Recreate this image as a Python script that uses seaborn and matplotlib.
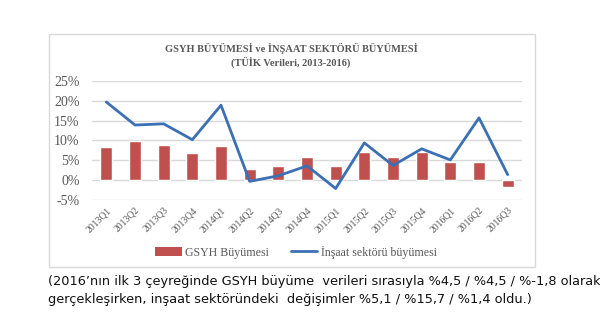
import matplotlib
matplotlib.use("Agg")
import matplotlib.pyplot as plt
import seaborn as sns
import pandas as pd
import numpy as np
from matplotlib.patches import Rectangle
from matplotlib.lines import Line2D
from matplotlib.patches import Patch
from matplotlib.ticker import FuncFormatter

quarters = ["2013Q1", "2013Q2", "2013Q3", "2013Q4", "2014Q1", "2014Q2", "2014Q3", "2014Q4",
            "2015Q1", "2015Q2", "2015Q3", "2015Q4", "2016Q1", "2016Q2", "2016Q3"]
gsyh = [8.4, 9.8, 8.9, 6.8, 8.6, 2.9, 3.6, 5.9, 3.5, 7.1, 5.8, 7.2, 4.5, 4.5, -1.8]
insaat = [19.7, 13.9, 14.2, 10.2, 18.9, -0.3, 1.1, 3.6, -2.1, 9.4, 3.7, 7.9, 5.1, 15.7, 1.4]
ytick_vals = [-5, 0, 5, 10, 15, 20, 25]
title_lines = ["GSYH BÜYÜMESİ ve İNŞAAT SEKTÖRÜ BÜYÜMESİ", "(TÜİK Verileri, 2013-2016)"]
legend_labels = ["GSYH Büyümesi", "İnşaat sektörü büyümesi"]
caption = ["(2016’nın ilk 3 çeyreğinde GSYH büyüme  verileri sırasıyla %4,5 / %4,5 / %-1,8 olarak",
           "gerçekleşirken, inşaat sektöründeki  değişimler %5,1 / %15,7 / %1,4 oldu.)"]

df = pd.DataFrame({"q": quarters, "gsyh": gsyh, "insaat": insaat, "pos": np.arange(len(quarters))})

sns.set_theme(style="white")
plt.rcParams["font.family"] = ["DejaVu Sans"]

W, H = 600, 329
fig = plt.figure(figsize=(6, 3.29), dpi=100)
fig.patch.set_facecolor("white")

bar_c = "#C0504D"
line_c = "#3B6FB6"
txt_c = "#595959"
serif = ["Liberation Serif", "DejaVu Serif"]

# chart box
fig.patches.append(Rectangle((49 / W, 1 - 267 / H), (535 - 49) / W, (267 - 34) / H,
                             transform=fig.transFigure, fill=False, edgecolor="#D9D9D9", lw=1))

ax = fig.add_axes([92 / W, 1 - 200 / H, (522 - 92) / W, (200 - 81) / H])
sns.barplot(data=df, x="q", y="gsyh", color=bar_c, width=0.42, saturation=1, ax=ax, zorder=2)
sns.lineplot(data=df, x="pos", y="insaat", color=line_c, lw=2, ax=ax, zorder=3)
ax.set_xlim(-0.5, len(quarters) - 0.5)
ax.set_ylim(-5, 25)
ax.set_yticks(ytick_vals)
ax.yaxis.set_major_formatter(FuncFormatter(lambda v, p: f"{v:.0f}%"))
ax.set_xticks(range(len(quarters)))
ax.set_xticklabels(quarters, rotation=45, ha="right", rotation_mode="anchor",
                   fontsize=7, color=txt_c, family=serif)
for lab in ax.get_yticklabels():
    lab.set_fontsize(10)
    lab.set_color(txt_c)
    lab.set_family(serif)
ax.tick_params(axis="x", length=0, pad=4)
ax.tick_params(axis="y", length=0, pad=9)
ax.grid(axis="y", color="#D9D9D9", lw=1, zorder=0)
ax.set_axisbelow(True)
for s in ax.spines.values():
    s.set_visible(False)
ax.set_xlabel("")
ax.set_ylabel("")

fig.text(291 / W, 1 - 48 / H, title_lines[0], ha="center", va="center", fontsize=7.5,
         color=txt_c, family=serif, fontweight="bold")
fig.text(291 / W, 1 - 62 / H, title_lines[1], ha="center", va="center", fontsize=7.5,
         color=txt_c, family=serif, fontweight="bold")

handles = [Patch(facecolor=bar_c, edgecolor="none"), Line2D([0], [0], color=line_c, lw=2)]
leg = fig.legend(handles, legend_labels, loc="center", bbox_to_anchor=(296 / W, 1 - 252 / H),
                 ncol=2, frameon=False, prop={"family": serif, "size": 8.6},
                 handlelength=2.2, handletextpad=0.3, columnspacing=1.8)
for t in leg.get_texts():
    t.set_color(txt_c)

fig.text(48 / W, 1 - 281 / H, caption[0], ha="left", va="center", fontsize=9.3, color="#111111")
fig.text(48 / W, 1 - 300 / H, caption[1], ha="left", va="center", fontsize=9.3, color="#111111")

fig.savefig("out.png", dpi=100, facecolor="white")
